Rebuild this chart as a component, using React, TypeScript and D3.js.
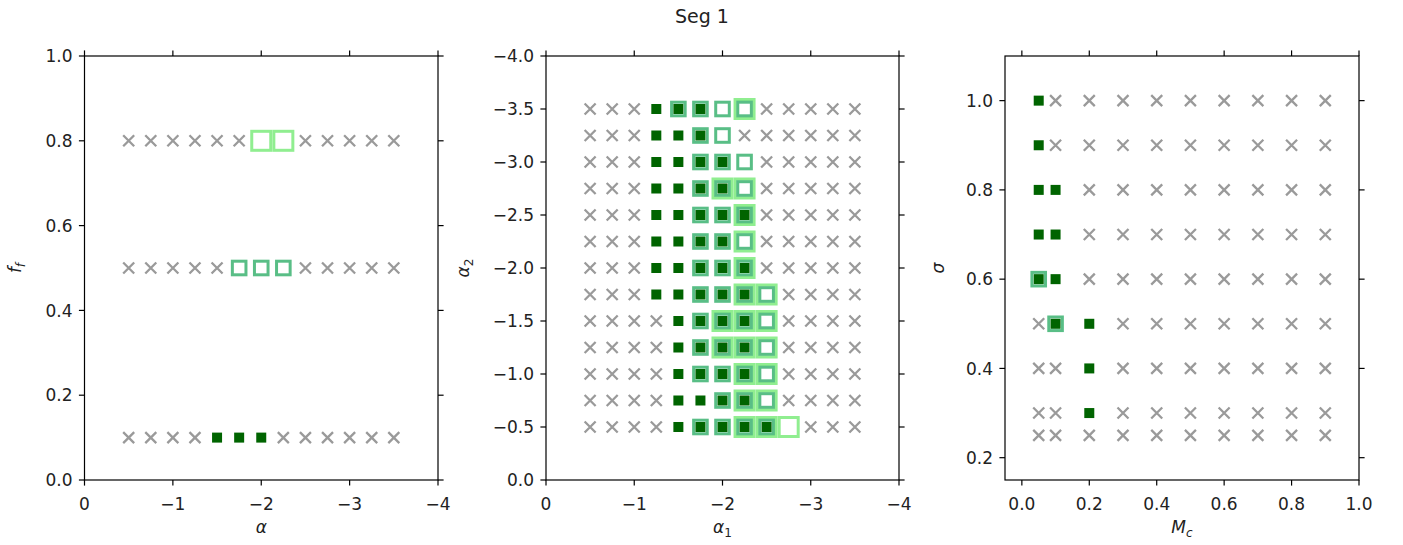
import React from 'react';
import * as d3 from 'd3';

// ---------- data ----------
// status codes: 0 = rejected (grey x), 1 = dark green, 2 = medium green, 4 = light green (bit flags)
const alphaVals = [-0.5, -0.75, -1, -1.25, -1.5, -1.75, -2, -2.25, -2.5, -2.75, -3, -3.25, -3.5];
const ffVals = [0.8, 0.5, 0.1];
const ffStatus = [
  [0, 0, 0, 0, 0, 0, 4, 4, 0, 0, 0, 0, 0],
  [0, 0, 0, 0, 0, 2, 2, 2, 0, 0, 0, 0, 0],
  [0, 0, 0, 0, 1, 1, 1, 0, 0, 0, 0, 0, 0],
];

const alpha1Vals = [-0.5, -0.75, -1, -1.25, -1.5, -1.75, -2, -2.25, -2.5, -2.75, -3, -3.25, -3.5];
const alpha2Vals = [-3.5, -3.25, -3, -2.75, -2.5, -2.25, -2, -1.75, -1.5, -1.25, -1, -0.75, -0.5];
const alphaStatus = [
  [0, 0, 0, 1, 3, 3, 2, 6, 0, 0, 0, 0, 0],
  [0, 0, 0, 1, 1, 3, 2, 0, 0, 0, 0, 0, 0],
  [0, 0, 0, 1, 1, 3, 3, 2, 0, 0, 0, 0, 0],
  [0, 0, 0, 1, 1, 3, 7, 6, 0, 0, 0, 0, 0],
  [0, 0, 0, 1, 1, 3, 3, 7, 0, 0, 0, 0, 0],
  [0, 0, 0, 1, 1, 3, 3, 6, 0, 0, 0, 0, 0],
  [0, 0, 0, 1, 1, 3, 3, 7, 0, 0, 0, 0, 0],
  [0, 0, 0, 1, 1, 3, 3, 7, 6, 0, 0, 0, 0],
  [0, 0, 0, 0, 1, 3, 7, 7, 6, 0, 0, 0, 0],
  [0, 0, 0, 0, 1, 3, 7, 7, 6, 0, 0, 0, 0],
  [0, 0, 0, 0, 1, 3, 3, 7, 6, 0, 0, 0, 0],
  [0, 0, 0, 0, 1, 1, 3, 7, 6, 0, 0, 0, 0],
  [0, 0, 0, 0, 1, 3, 3, 7, 7, 4, 0, 0, 0],
];

const mcVals = [0.05, 0.1, 0.2, 0.3, 0.4, 0.5, 0.6, 0.7, 0.8, 0.9];
const sigmaVals = [1.0, 0.9, 0.8, 0.7, 0.6, 0.5, 0.4, 0.3, 0.25];
const sigmaStatus = [
  [1, 0, 0, 0, 0, 0, 0, 0, 0, 0],
  [1, 0, 0, 0, 0, 0, 0, 0, 0, 0],
  [1, 1, 0, 0, 0, 0, 0, 0, 0, 0],
  [1, 1, 0, 0, 0, 0, 0, 0, 0, 0],
  [3, 1, 0, 0, 0, 0, 0, 0, 0, 0],
  [0, 3, 1, 0, 0, 0, 0, 0, 0, 0],
  [0, 0, 1, 0, 0, 0, 0, 0, 0, 0],
  [0, 0, 1, 0, 0, 0, 0, 0, 0, 0],
  [0, 0, 0, 0, 0, 0, 0, 0, 0, 0],
];

const xTicks1 = [0, -1, -2, -3, -4];
const yTicks1 = [0, 0.2, 0.4, 0.6, 0.8, 1.0];
const xTicks2 = [0, -1, -2, -3, -4];
const yTicks2 = [0, -0.5, -1, -1.5, -2, -2.5, -3, -3.5, -4];
const xTicks3 = [0, 0.2, 0.4, 0.6, 0.8, 1.0];
const yTicks3 = [0.2, 0.4, 0.6, 0.8, 1.0];

// ---------- styling ----------
const W = 1403;
const H = 545;
const TOP = 56;
const BOTTOM = 480;
const FONT = 'DejaVu Sans, sans-serif';
const TICK_FS = 17;
const TICK_LEN = 5.6;
const GREY = '#9a9a9a';
const DARK = '#006400';
const MED = '#3cb371';
const LIGHT = '#90ee90';

type Label = { main: string; sub: string; subItalic: boolean };

function LabelText({ label }: { label: Label }) {
  return (
    <>
      <tspan fontStyle="italic">{label.main}</tspan>
      <tspan fontStyle={label.subItalic ? 'italic' : 'normal'} fontSize={12} dy={4}>
        {label.sub}
      </tspan>
    </>
  );
}

type PanelProps = {
  left: number;
  right: number;
  xDomain: [number, number];
  yDomain: [number, number];
  xTicks: number[];
  yTicks: number[];
  xFmt: (v: number) => string;
  yFmt: (v: number) => string;
  xs: number[];
  ys: number[];
  status: number[][];
  xLabel: Label;
  yLabel: Label;
  yLabelOffset: number;
};

function Panel(p: PanelProps) {
  const x = d3.scaleLinear().domain(p.xDomain).range([p.left, p.right]);
  const y = d3.scaleLinear().domain(p.yDomain).range([BOTTOM, TOP]);
  const cells: { cx: number; cy: number; s: number }[] = [];
  p.status.forEach((row, i) =>
    row.forEach((s, j) => cells.push({ cx: x(p.xs[j]), cy: y(p.ys[i]), s }))
  );
  const midY = (TOP + BOTTOM) / 2;
  const midX = (p.left + p.right) / 2;
  const xs = 5.5;
  return (
    <g>
      {/* rejected points */}
      {cells
        .filter((c) => c.s === 0)
        .map((c, k) => (
          <path
            key={'x' + k}
            d={`M${c.cx - xs},${c.cy - xs}L${c.cx + xs},${c.cy + xs}M${c.cx - xs},${c.cy + xs}L${c.cx + xs},${c.cy - xs}`}
            stroke={GREY}
            strokeWidth={2.3}
            fill="none"
          />
        ))}
      {/* light green large open squares */}
      {cells
        .filter((c) => c.s & 4)
        .map((c, k) => (
          <rect key={'l' + k} x={c.cx - 9.5} y={c.cy - 9.5} width={19} height={19} fill="none" stroke={LIGHT} strokeWidth={3} />
        ))}
      {/* medium green open squares */}
      {cells
        .filter((c) => c.s & 2)
        .map((c, k) => (
          <rect key={'m' + k} x={c.cx - 6.8} y={c.cy - 6.8} width={13.6} height={13.6} fill="none" stroke={MED} strokeOpacity={0.85} strokeWidth={3} />
        ))}
      {/* dark green filled squares */}
      {cells
        .filter((c) => c.s & 1)
        .map((c, k) => (
          <rect key={'d' + k} x={c.cx - 5} y={c.cy - 5} width={10} height={10} fill={DARK} />
        ))}

      {/* spines */}
      <rect x={p.left} y={TOP} width={p.right - p.left} height={BOTTOM - TOP} fill="none" stroke="#000" strokeWidth={1.2} />

      {/* x ticks (bottom + top) */}
      {p.xTicks.map((t) => (
        <g key={'xt' + t}>
          <line x1={x(t)} x2={x(t)} y1={BOTTOM} y2={BOTTOM + TICK_LEN} stroke="#000" strokeWidth={1.2} />
          <line x1={x(t)} x2={x(t)} y1={TOP} y2={TOP - TICK_LEN} stroke="#000" strokeWidth={1.2} />
          <text x={x(t)} y={BOTTOM + 29.5} textAnchor="middle" fontSize={TICK_FS} fontFamily={FONT} fill="#222">
            {p.xFmt(t)}
          </text>
        </g>
      ))}
      {/* y ticks (left + right) */}
      {p.yTicks.map((t) => (
        <g key={'yt' + t}>
          <line x1={p.left} x2={p.left - TICK_LEN} y1={y(t)} y2={y(t)} stroke="#000" strokeWidth={1.2} />
          <line x1={p.right} x2={p.right + TICK_LEN} y1={y(t)} y2={y(t)} stroke="#000" strokeWidth={1.2} />
          <text x={p.left - 12} y={y(t) + 6.2} textAnchor="end" fontSize={TICK_FS} fontFamily={FONT} fill="#222">
            {p.yFmt(t)}
          </text>
        </g>
      ))}
      {/* axis labels */}
      <text x={midX} y={BOTTOM + 53} textAnchor="middle" fontSize={TICK_FS} fontFamily={FONT} fill="#222">
        <LabelText label={p.xLabel} />
      </text>
      <text
        transform={`translate(${p.left - p.yLabelOffset},${midY}) rotate(-90)`}
        textAnchor="middle"
        fontSize={TICK_FS}
        fontFamily={FONT}
        fill="#222"
      >
        <LabelText label={p.yLabel} />
      </text>
    </g>
  );
}

export default function App() {
  const fInt = d3.format('d');
  const f1 = d3.format('.1f');
  return (
    <svg width={W} height={H} style={{ position: 'absolute', left: 0, top: 0, background: '#fff' }}>
      <rect x={0} y={0} width={W} height={H} fill="#fff" />
      <text x={702} y={23} textAnchor="middle" fontSize={19} fontFamily={FONT} fill="#222">
        Seg 1
      </text>
      <Panel
        left={84.5}
        right={438}
        xDomain={[0, -4]}
        yDomain={[0, 1]}
        xTicks={xTicks1}
        yTicks={yTicks1}
        xFmt={fInt}
        yFmt={f1}
        xs={alphaVals}
        ys={ffVals}
        status={ffStatus}
        xLabel={{ main: 'α', sub: '', subItalic: false }}
        yLabel={{ main: 'f', sub: 'f', subItalic: true }}
        yLabelOffset={64}
      />
      <Panel
        left={546}
        right={899}
        xDomain={[0, -4]}
        yDomain={[0, -4]}
        xTicks={xTicks2}
        yTicks={yTicks2}
        xFmt={fInt}
        yFmt={f1}
        xs={alpha1Vals}
        ys={alpha2Vals}
        status={alphaStatus}
        xLabel={{ main: 'α', sub: '1', subItalic: false }}
        yLabel={{ main: 'α', sub: '2', subItalic: false }}
        yLabelOffset={77}
      />
      <Panel
        left={1005}
        right={1359}
        xDomain={[-0.05, 1.0]}
        yDomain={[0.15, 1.1]}
        xTicks={xTicks3}
        yTicks={yTicks3}
        xFmt={f1}
        yFmt={f1}
        xs={mcVals}
        ys={sigmaVals}
        status={sigmaStatus}
        xLabel={{ main: 'M', sub: 'c', subItalic: true }}
        yLabel={{ main: 'σ', sub: '', subItalic: false }}
        yLabelOffset={61}
      />
    </svg>
  );
}
